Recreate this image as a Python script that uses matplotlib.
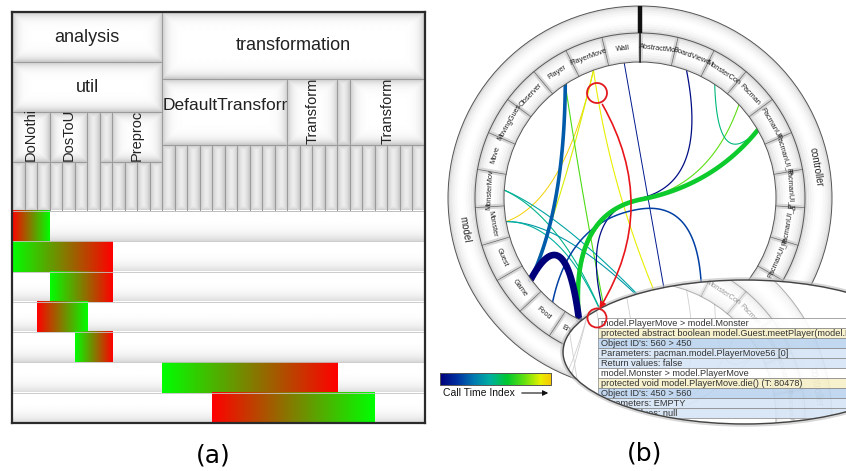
import numpy as np
import matplotlib
matplotlib.use('Agg')
import matplotlib.pyplot as plt
from matplotlib.patches import Rectangle, Wedge, Circle, Ellipse, FancyArrowPatch, Polygon
from matplotlib.colors import LinearSegmentedColormap

plt.rcParams['font.family'] = ['Liberation Sans', 'DejaVu Sans']

# ---------------- (a) package / class icicle and call bars
# (label, first column, last column, top, bottom, text style)
tree_nodes = [
    ('analysis', 0, 12, 0, 50, 'h'),
    ('util', 0, 12, 50, 100, 'h'),
    ('DoNothing', 0, 3, 100, 150, 'v'),
    ('DosToUnix', 3, 6, 100, 150, 'v'),
    ('', 6, 7, 100, 199, 'v'),
    ('', 7, 8, 100, 150, 'v'),
    ('Preprocessor', 8, 12, 100, 150, 'v'),
    ('transformation', 12, 33, 0, 67, 'h'),
    ('DefaultTransformer', 12, 22, 67, 133, 'hl'),
    ('Transformer', 22, 26, 67, 133, 'v'),
    ('', 26, 27, 67, 133, 'v'),
    ('TransformerChain', 27, 33, 67, 133, 'v'),
]
n_cols = 33
bar_start = [0, 0, 3, 2, 5, 12, 16]
bar_end = [3, 8, 8, 6, 8, 26, 29]
bar_dir = ['rg', 'gr', 'gr', 'rg', 'gr', 'gr', 'rg']

# ---------------- (b) class ring with call edges
model_classes = ['Wall', 'PlayerMove', 'Player', 'Observer', 'MovingGuest', 'Move',
                 'MonsterMove', 'Monster', 'Guest', 'Game', 'Food', 'Enemy',
                 'Cell', 'Board', 'Bonus']
controller_classes = ['AbstractMonsterController', 'BoardViewer', 'MonsterController',
                      'Pacman', 'PacmanUI', 'PacmanUI_PacmanUI_1', 'PacmanUI_PacmanUI_2',
                      'PacmanUI_PacmanUI_3', 'PacmanUI_PacmanUI_4', 'PacmanUI_PacmanUI_5',
                      'PacmanUI_PacmanUI_6', 'PacmanUI_PacmanUI_7']
edge_src = ['Wall', 'PlayerMove', 'PlayerMove', 'Player', 'Monster', 'MonsterMove',
            'MonsterMove', 'Monster', 'Monster', 'BoardViewer', 'Pacman',
            'MonsterController', 'Food', 'Player', 'PacmanUI', 'Game']
edge_dst = ['Bonus', 'Bonus', 'Game', 'Cell', 'PlayerMove', 'Bonus',
            'Cell', 'Bonus', 'Cell', 'Cell', 'Enemy',
            'PacmanUI', 'PacmanUI_PacmanUI_7', 'Game', 'Enemy', 'Enemy']
edge_time = [0.08, 0.9, 0.88, 0.72, 0.97, 0.42, 0.48, 0.38, 0.45, 0.04, 0.74,
             0.5, 0.18, 0.24, 0.62, 0.0]
edge_width = [0.7, 0.8, 0.8, 0.8, 0.7, 0.8, 0.8, 0.8, 0.8, 0.9, 0.8,
              0.8, 1.1, 2.6, 3.3, 4.8]
edge_beta = [0.0, 0.3, 0.5, 0.15, 0.85, 0.85, 0.85, 0.85, 0.85, 0.9, 0.9,
             0.85, 0.9, 0.9, 0.95, 0.95]

call_rows = ['model.PlayerMove > model.Monster',
             'protected abstract boolean model.Guest.meetPlayer(model.PlayerMove',
             "Object ID's: 560 > 450",
             'Parameters: pacman.model.PlayerMove56 [0]',
             'Return values: false',
             'model.Monster > model.PlayerMove',
             'protected void model.PlayerMove.die() (T: 80478)',
             "Object ID's: 450 > 560",
             'Parameters: EMPTY',
             'Return values: null']
call_kind = ['head', 'sig', 'id', 'param', 'ret', 'head', 'sig', 'id', 'param', 'ret']
kind_color = {'head': '#ffffff', 'sig': '#f6f0c6', 'id': '#b9d3ee',
              'param': '#d5e4f5', 'ret': '#d5e4f5'}

time_cmap = LinearSegmentedColormap.from_list('calltime', [
    (0.0, '#00007a'), (0.15, '#0030a0'), (0.3, '#0078b0'), (0.45, '#00b0a0'),
    (0.6, '#00c830'), (0.75, '#60e010'), (0.9, '#e8f000'), (1.0, '#f8c400')])

fig = plt.figure(figsize=(8.46, 4.71), dpi=100)

# ======================= panel (a)
ax_a = fig.add_axes([12 / 846, 48 / 471, 413 / 846, 411 / 471])
COL_PX = 413 / n_cols
ROW_TOP = 199
ROW_H = (411 - ROW_TOP) / len(bar_start)


def shade_box(ax, x0, x1, y0, y1, z=1):
    wpx = max(int((x1 - x0) * COL_PX), 2)
    hpx = max(int(y1 - y0), 2)
    xx = np.arange(wpx) + 0.5
    yy = np.arange(hpx) + 0.5
    d = np.minimum(np.minimum(xx, wpx - xx)[None, :], np.minimum(yy, hpx - yy)[:, None])
    v = 1 - 0.24 * np.exp(-d / 4.5)
    ax.imshow(v, cmap='gray', vmin=0, vmax=1, extent=(x0, x1, y1, y0),
              aspect='auto', interpolation='bilinear', zorder=z)
    r = Rectangle((x0, y0), x1 - x0, y1 - y0, fill=False, ec='#9a9a9a', lw=0.6, zorder=z + 0.1)
    ax.add_patch(r)
    return r


for label, x0, x1, y0, y1, style in tree_nodes:
    box = shade_box(ax_a, x0, x1, y0, y1)
    if not label:
        continue
    if style == 'h':
        t = ax_a.text((x0 + x1) / 2, (y0 + y1) / 2, label, ha='center', va='center',
                      fontsize=13, color='#222222', clip_on=True, zorder=3)
    elif style == 'hl':
        t = ax_a.text(x0 + 0.05, y0 + (y1 - y0) * 0.4, label, ha='left', va='center',
                      fontsize=12.5, color='#222222', clip_on=True, zorder=3)
    else:
        t = ax_a.text((x0 + x1) / 2, y1 - 1, label, ha='center', va='bottom', rotation=90,
                      fontsize=10.5, color='#222222', clip_on=True, zorder=3)
    t.set_clip_path(box)

# method stripes below the classes
for c in range(n_cols):
    top = max(n[4] for n in tree_nodes if n[1] <= c < n[2])
    if top < ROW_TOP:
        shade_box(ax_a, c, c + 1, top, ROW_TOP)

# call rows
row_shade = (1 - 0.15 * np.linspace(0, 1, 60) ** 4)[:, None]
for i in range(len(bar_start)):
    y0 = ROW_TOP + i * ROW_H
    ax_a.imshow(row_shade, cmap='gray', vmin=0, vmax=1, extent=(0, n_cols, y0 + ROW_H, y0),
                aspect='auto', interpolation='bilinear', zorder=1)
    t = np.linspace(0, 1, 256)[:, None]
    red, green = np.array([1.0, 0.0, 0.0]), np.array([0.0, 1.0, 0.0])
    c0, c1 = (red, green) if bar_dir[i] == 'rg' else (green, red)
    grad = ((1 - t) * c0 + t * c1)[None, :, :]
    ax_a.imshow(grad, extent=(bar_start[i], bar_end[i], y0 + ROW_H, y0),
                aspect='auto', interpolation='bilinear', zorder=2)
    ax_a.axhline(y0, color='#c4c4c4', lw=0.6, zorder=2.5)

ax_a.set_xlim(0, n_cols)
ax_a.set_ylim(411, 0)
ax_a.set_xticks([])
ax_a.set_yticks([])
for s in ax_a.spines.values():
    s.set_linewidth(1.6)
    s.set_color('#2a2a2a')
    s.set_zorder(5)

# ======================= panel (b)
ax_b = fig.add_axes([430 / 846, 31 / 471, 416 / 846, 440 / 471])
STEP = 360 / (len(model_classes) + len(controller_classes))
R_IN, R_MID, R_OUT = 136, 165, 192
NODE_R = 75
pkg_span = {'model': (-len(model_classes) * STEP, 0),
            'controller': (0, len(controller_classes) * STEP)}
LENS_C, LENS_W, LENS_H = (105, -154), 364, 144
LENS_SHIFT = -220


def polar(theta, r, oy=0.0):
    a = np.radians(theta)
    return np.array([r * np.sin(a), oy + r * np.cos(a)])


def pkg_of(name):
    return 'model' if name in model_classes else 'controller'


def class_angle(name):
    if name in model_classes:
        return -(model_classes.index(name) + 0.5) * STEP
    return (controller_classes.index(name) + 0.5) * STEP


def tangent_rot(theta):
    rot = (-theta + 180) % 360 - 180
    if rot > 90:
        rot -= 180
    elif rot < -90:
        rot += 180
    return rot


def lens_dist(p):
    return np.hypot((p[0] - LENS_C[0]) / (LENS_W / 2), (p[1] - LENS_C[1]) / (LENS_H / 2))


def bspline2(ctrl, n=60):
    segs = []
    start = ctrl[0]
    for i in range(1, len(ctrl) - 1):
        end = ctrl[-1] if i == len(ctrl) - 2 else (ctrl[i] + ctrl[i + 1]) / 2
        t = np.linspace(0, 1, n)[:, None]
        segs.append((1 - t) ** 2 * start + 2 * (1 - t) * t * ctrl[i] + t ** 2 * end)
        start = end
    return np.vstack(segs)


def edge_curve(src, dst, beta, oy=0.0):
    p0 = polar(class_angle(src), R_IN, oy)
    p3 = polar(class_angle(dst), R_IN, oy)
    ctrl = [p0, polar(np.mean(pkg_span[pkg_of(src)]), NODE_R, oy)]
    if pkg_of(dst) != pkg_of(src):
        ctrl.append(polar(np.mean(pkg_span[pkg_of(dst)]), NODE_R, oy))
    ctrl.append(p3)
    ctrl = np.array(ctrl)
    straight = p0 + np.linspace(0, 1, len(ctrl))[:, None] * (p3 - p0)
    return bspline2(beta * ctrl + (1 - beta) * straight)


def draw_ring(ax, oy, z, alpha=1.0, clip=None):
    arts = []
    for r_in, r_out in [(R_IN, R_MID), (R_MID, R_OUT)]:
        nb = 12
        rs = np.linspace(r_in, r_out, nb + 1)
        for k in range(nb):
            g = 0.80 + 0.20 * np.sin(np.pi * (k + 0.5) / nb) ** 0.6
            arts.append(ax.add_patch(Wedge((0, oy), rs[k + 1], 0, 360, width=rs[k + 1] - rs[k],
                                           fc=(g, g, g), ec='none', alpha=alpha, zorder=z)))
    for r in (R_IN, R_MID, R_OUT):
        arts.append(ax.add_patch(Circle((0, oy), r, fill=False, ec='#555555', lw=0.7,
                                        alpha=alpha, zorder=z + 0.3)))
    n_all = len(model_classes) + len(controller_classes)
    for k in range(n_all):
        p0, p1 = polar(k * STEP, R_IN, oy), polar(k * STEP, R_MID, oy)
        arts += ax.plot([p0[0], p1[0]], [p0[1], p1[1]], color='#d6d6d6', lw=3.5, alpha=alpha,
                        solid_capstyle='butt', zorder=z + 0.1)
        arts += ax.plot([p0[0], p1[0]], [p0[1], p1[1]], color='#666666', lw=0.5, alpha=alpha,
                        zorder=z + 0.2)
    for th in (0, pkg_span['controller'][1]):
        p0, p1, p2 = polar(th, R_IN, oy), polar(th, R_MID, oy), polar(th, R_OUT, oy)
        arts += ax.plot([p0[0], p1[0]], [p0[1], p1[1]], color='#222222', lw=1.1, alpha=alpha,
                        zorder=z + 0.4)
        arts += ax.plot([p1[0], p2[0]], [p1[1], p2[1]], color='#111111', lw=3.2, alpha=alpha,
                        solid_capstyle='butt', zorder=z + 0.4)
    labels = [(name[:10], class_angle(name), (R_IN + R_MID) / 2, 5.3)
              for name in model_classes + controller_classes]
    labels += [(pkg, np.mean(span), (R_MID + R_OUT) / 2, 7) for pkg, span in pkg_span.items()]
    for txt, th, r, fs in labels:
        p = polar(th, r, oy)
        d = lens_dist(p)
        # lens copy: only labels well inside the lens; main ring: skip labels hidden by it
        if (clip is not None and d > 0.88) or (clip is None and d < 0.93):
            continue
        ax.text(p[0], p[1], txt, ha='center', va='center', fontsize=fs,
                rotation=tangent_rot(th), rotation_mode='anchor', color='#222222',
                alpha=alpha, zorder=z + 0.5, clip_on=True)
    if clip is not None:
        for a in arts:
            a.set_clip_path(clip)


# bundled call edges
order = np.argsort(edge_width, kind='stable')
for i in order:
    pts = edge_curve(edge_src[i], edge_dst[i], edge_beta[i])
    ax_b.plot(pts[:, 0], pts[:, 1], color=time_cmap(edge_time[i]), lw=edge_width[i],
              solid_capstyle='round', zorder=2 + 0.01 * edge_width[i])

draw_ring(ax_b, 0, 4)

# colour legend
ax_b.imshow(np.linspace(0, 1, 256)[None, :], cmap=time_cmap, extent=(-200, -89, -187, -175),
            aspect='auto', interpolation='bilinear', zorder=6)
ax_b.add_patch(Rectangle((-200, -187), 111, 12, fill=False, ec='#555555', lw=0.7, zorder=6.5))
ax_b.text(-197, -195, 'Call Time Index', ha='left', va='center', fontsize=7.5, color='#111111')
ax_b.annotate('', xy=(-89, -195), xytext=(-121, -195),
              arrowprops=dict(arrowstyle='-|>', color='#111111', lw=0.8, mutation_scale=8))

# magnifying lens with call details
lens = Ellipse(LENS_C, LENS_W, LENS_H, fc='white', ec='none', zorder=10)
ax_b.add_patch(lens)
draw_ring(ax_b, LENS_SHIFT, 10.6, alpha=0.45, clip=lens)
for i in order:
    pts = edge_curve(edge_src[i], edge_dst[i], edge_beta[i], LENS_SHIFT)
    ln, = ax_b.plot(pts[:, 0], pts[:, 1], color='#cfcfcf', lw=0.6, zorder=10.4)
    ln.set_clip_path(lens)

TAB_X0, TAB_TOP, TAB_ROW = -42, -120, 10
for k, (txt, kind) in enumerate(zip(call_rows, call_kind)):
    y_top = TAB_TOP - k * TAB_ROW
    r = Rectangle((TAB_X0, y_top - TAB_ROW), 300, TAB_ROW, fc=kind_color[kind], ec='#8a8a8a',
                  lw=0.6, alpha=0.88, zorder=13)
    ax_b.add_patch(r)
    r.set_clip_path(lens)
    ax_b.text(TAB_X0 + 3, y_top - TAB_ROW / 2, txt, ha='left', va='center', fontsize=6.6,
              color='#333333', zorder=14, clip_on=True)

# white mask under the lens bottom hides table text that runs past the ellipse
mx = np.linspace(-45, 215, 120)
my = LENS_C[1] - LENS_H / 2 * np.sqrt(np.clip(1 - ((mx - LENS_C[0]) / (LENS_W / 2)) ** 2, 0, 1))
mask = np.vstack([np.column_stack([mx, my]), [[215, -245], [-45, -245]]])
ax_b.add_patch(Polygon(mask, closed=True, fc='white', ec='none', zorder=14.5))

ax_b.add_patch(Ellipse(LENS_C, LENS_W + 2, LENS_H + 2, fill=False, ec='#bdbdbd', lw=2.5,
                       alpha=0.6, zorder=15))
ax_b.add_patch(Ellipse(LENS_C, LENS_W, LENS_H, fill=False, ec='#444444', lw=1.0, zorder=15.5))

# red highlight of the selected call
ax_b.add_patch(Circle((-43, 105), 10, fill=False, ec='#e2191e', lw=1.3, zorder=16))
ax_b.add_patch(Circle((-43, -120), 9.5, fill=False, ec='#e2191e', lw=1.3, zorder=16))
ax_b.add_patch(FancyArrowPatch((-39, 96), (-42, -113), connectionstyle='arc3,rad=-0.3',
                               arrowstyle='-|>', mutation_scale=9, color='#e8161b', lw=1.2,
                               zorder=16))

ax_b.set_xlim(-210, 206)
ax_b.set_ylim(-242, 198)
ax_b.axis('off')

fig.text(213 / 846, 1 - 455 / 471, '(a)', ha='center', va='center', fontsize=18,
         family='DejaVu Sans')
fig.text(645 / 846, 1 - 454 / 471, '(b)', ha='center', va='center', fontsize=18,
         family='DejaVu Sans')

fig.savefig('out.png', dpi=100)
